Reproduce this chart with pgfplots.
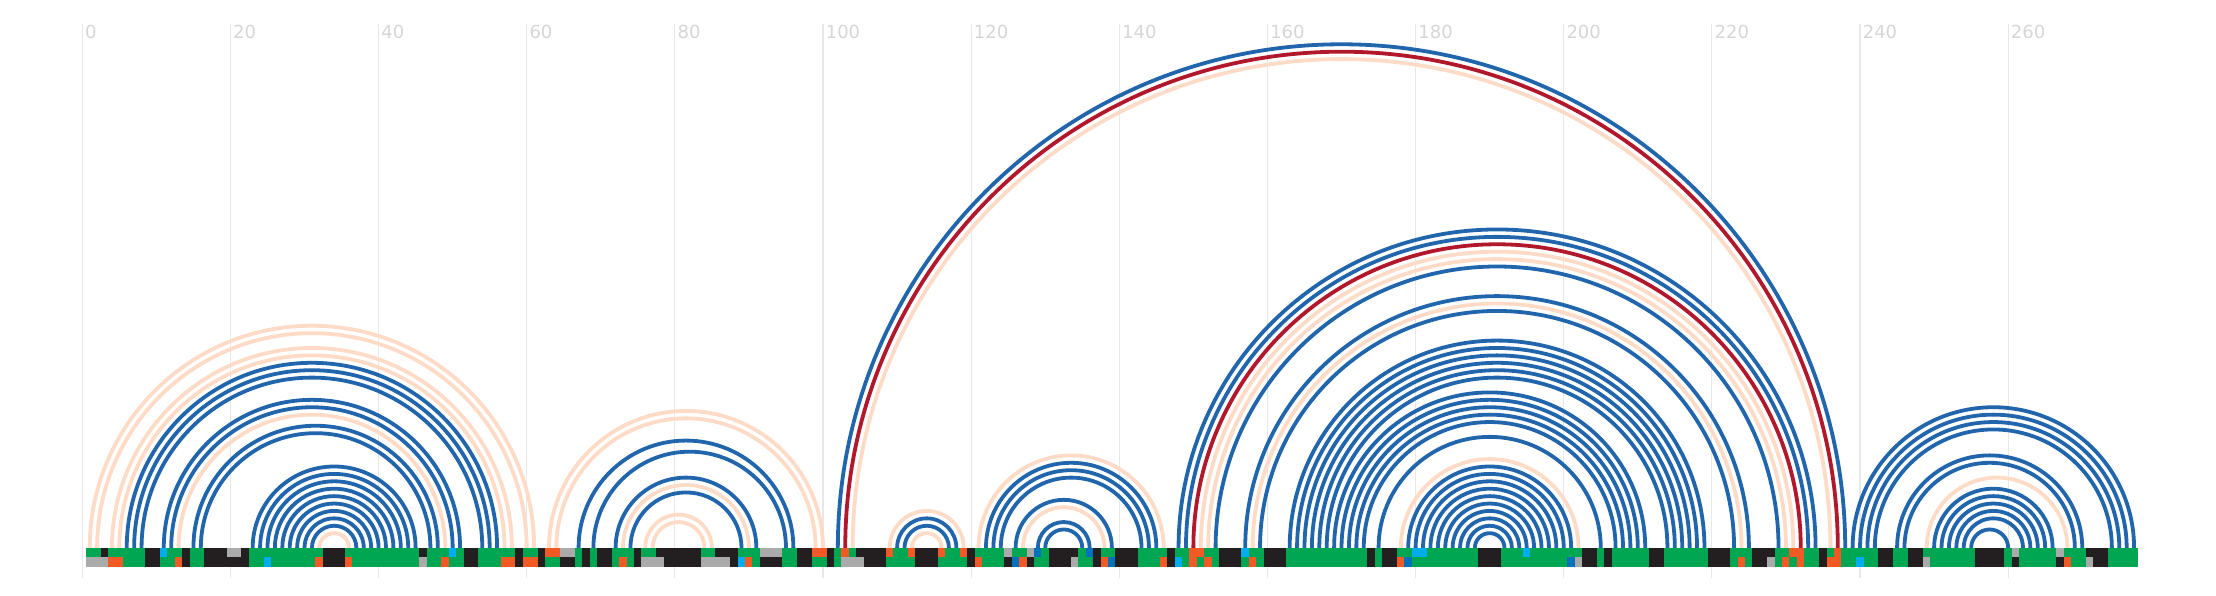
\documentclass[border=0pt]{standalone}
\usepackage{fontspec}
\setmainfont{DejaVu Sans}
\usepackage{pgfplots}
\usepackage{pgfplotstable}
\pgfplotsset{compat=1.18}

\definecolor{arcblue}{HTML}{2166AC}
\definecolor{arcred}{HTML}{B2182B}
\definecolor{arcpeach}{HTML}{FDDBC7}
\definecolor{cgreen}{HTML}{00A651}
\definecolor{cblack}{HTML}{231F20}
\definecolor{cgray}{HTML}{AAAAAA}
\definecolor{corange}{HTML}{F15A24}
\definecolor{ccyan}{HTML}{00AEEF}
\definecolor{cblue}{HTML}{0072BC}
\definecolor{gridgray}{HTML}{E8E8E8}
\definecolor{labelgray}{HTML}{D6D6D6}

\pgfdeclareplotmark{arcmark}{%
  \pgfpathmoveto{\pgfqpoint{\pgfplotmarksize}{0pt}}%
  \pgfpatharc{0}{180}{\the\pgfplotmarksize}%
  \pgfusepathqstroke
}
\pgfdeclareplotmark{cellmark}{%
  \pgfpathrectangle{\pgfqpoint{-1.95pt}{-2.42pt}}{\pgfqpoint{3.9pt}{4.84pt}}%
  \pgfusepathqfill
}

% base pairs: i j class (p = peach, b = blue, r = red)
\pgfplotstableread{
i j c
1 61 p
2 60 p
4 58 p
5 57 p
13 49 p
32 36 p
63 100 p
64 99 p
73 90 p
76 85 p
77 84 p
104 236 p
109 119 p
112 116 p
121 146 p
127 138 p
151 231 p
152 230 p
158 224 p
178 202 p
249 268 p
6 56 b
7 55 b
8 54 b
11 51 b
12 50 b
15 48 b
16 47 b
23 45 b
24 44 b
25 43 b
26 42 b
27 41 b
28 40 b
29 39 b
30 38 b
31 37 b
67 96 b
69 95 b
72 91 b
74 89 b
102 238 b
110 118 b
111 117 b
122 145 b
123 144 b
124 143 b
126 139 b
129 136 b
130 135 b
148 234 b
149 233 b
153 229 b
157 225 b
159 223 b
163 219 b
164 218 b
165 217 b
166 216 b
167 215 b
168 214 b
169 211 b
170 210 b
171 209 b
172 208 b
173 207 b
175 205 b
179 201 b
180 200 b
181 199 b
182 198 b
183 197 b
184 196 b
185 195 b
186 194 b
187 193 b
188 192 b
239 277 b
240 276 b
241 275 b
242 274 b
245 270 b
246 269 b
250 266 b
251 265 b
252 264 b
253 263 b
254 262 b
255 260 b
103 237 r
150 232 r
}\arcs

% sequence strip: position, top-row class, bottom-row class
\pgfplotstableread{
p t b
1 G A
2 G A
3 K A
4 G O
5 G O
6 G G
7 G G
8 G G
9 K K
10 K K
11 C G
12 G G
13 G O
14 K K
15 G G
16 G G
17 K K
18 K K
19 K K
20 A K
21 A K
22 K K
23 G G
24 G G
25 G C
26 G G
27 G G
28 G G
29 G G
30 G G
31 G G
32 G O
33 K K
34 K K
35 K K
36 G O
37 G G
38 G G
39 G G
40 G G
41 G G
42 G G
43 G G
44 G G
45 G G
46 K A
47 G G
48 G G
49 G O
50 C G
51 G G
52 K K
53 K K
54 G G
55 G G
56 G G
57 G O
58 G O
59 K K
60 G O
61 G O
62 K K
63 O G
64 O G
65 A K
66 A K
67 G G
68 K K
69 G G
70 K K
71 K K
72 G G
73 G O
74 G G
75 K K
76 G A
77 G A
78 K A
79 K K
80 K K
81 K K
82 K K
83 K K
84 G A
85 G A
86 K A
87 K A
88 K K
89 G C
90 G O
91 G G
92 A K
93 A K
94 A K
95 G G
96 G G
97 K K
98 K K
99 O G
100 O G
101 K K
102 G G
103 O A
104 G A
105 K A
106 K K
107 K K
108 K K
109 O G
110 G G
111 G G
112 O G
113 K K
114 K K
115 K K
116 O G
117 G G
118 G G
119 O G
120 K K
121 G O
122 G G
123 G G
124 G G
125 A K
126 G B
127 G O
128 A K
129 B G
130 G G
131 K K
132 K K
133 K K
134 K A
135 G G
136 B G
137 K K
138 G O
139 G B
140 K K
141 K K
142 K K
143 G G
144 G G
145 G G
146 G O
147 K K
148 G C
149 G G
150 O O
151 O G
152 G O
153 G G
154 K K
155 K K
156 K K
157 C G
158 G O
159 G G
160 K K
161 K K
162 K K
163 G G
164 G G
165 G G
166 G G
167 G G
168 G G
169 G G
170 G G
171 G G
172 G G
173 G G
174 K K
175 G G
176 K K
177 K K
178 G O
179 G B
180 C G
181 C G
182 G G
183 G G
184 G G
185 G G
186 G G
187 G G
188 G G
189 K K
190 K K
191 K K
192 G G
193 G G
194 G G
195 C G
196 G G
197 G G
198 G G
199 G G
200 G G
201 G B
202 G A
203 K K
204 K K
205 G G
206 K K
207 G G
208 G G
209 G G
210 G G
211 G G
212 K K
213 K K
214 G G
215 G G
216 G G
217 G G
218 G G
219 G G
220 K K
221 K K
222 K K
223 G G
224 G O
225 G G
226 K K
227 K K
228 K A
229 G G
230 G O
231 O G
232 O O
233 G G
234 G G
235 K K
236 G O
237 O O
238 G G
239 G G
240 G C
241 G G
242 G G
243 K K
244 K K
245 G G
246 G G
247 K K
248 K K
249 G A
250 G G
251 G G
252 G G
253 G G
254 G G
255 G G
256 K K
257 K K
258 K K
259 K K
260 G G
261 A K
262 G G
263 G G
264 G G
265 G G
266 G G
267 A K
268 G O
269 G G
270 G G
271 K A
272 K K
273 K K
274 G G
275 G G
276 G G
277 G G
}\strip

\begin{document}
\begin{tikzpicture}
\begin{axis}[
  x=3.7035pt, y=3.7035pt,
  xmin=-11.111, xmax=288.06,
  ymin=-4.05, ymax=70.74,
  axis line style={draw=none},
  clip=false,
  xtick={0,20,...,260},
  ytick=\empty,
  xmajorgrids,
  major grid style={draw=gridgray, line width=0.6pt},
  major tick length=0pt,
  xtick pos=right,
  xticklabel pos=right,
  xticklabel style={font=\fontsize{9}{10}\selectfont, text=labelgray,
    anchor=north west, inner sep=0pt, xshift=1.2pt, yshift=-0.6pt},
  /pgf/number format/assume math mode=true,
]
% arcs
\addplot[scatter, only marks, mark=arcmark,
  point meta=explicit symbolic,
  scatter/classes={
    p={draw=arcpeach, line width=1.9pt},
    b={draw=arcblue, line width=1.9pt},
    r={draw=arcred, line width=1.9pt}},
  visualization depends on={(\thisrow{j}-\thisrow{i})*1.85175 \as \rad},
  scatter/@pre marker code/.append style={/tikz/mark size=\rad}]
  table[x expr={(\thisrow{i}+\thisrow{j})/2}, y expr=0, meta=c] {\arcs};
% strip, top row
\addplot[scatter, only marks, mark=cellmark,
  point meta=explicit symbolic,
  scatter/classes={G={cgreen}, K={cblack}, A={cgray}, O={corange}, C={ccyan}, B={cblue}}]
  table[x=p, y expr=-0.6415, meta=t] {\strip};
% strip, bottom row
\addplot[scatter, only marks, mark=cellmark,
  point meta=explicit symbolic,
  scatter/classes={G={cgreen}, K={cblack}, A={cgray}, O={corange}, C={ccyan}, B={cblue}}]
  table[x=p, y expr=-1.925, meta=b] {\strip};
\end{axis}
\path ([yshift=12pt]current axis.north west) rectangle ([yshift=-9pt]current axis.south east);
\end{tikzpicture}
\end{document}
